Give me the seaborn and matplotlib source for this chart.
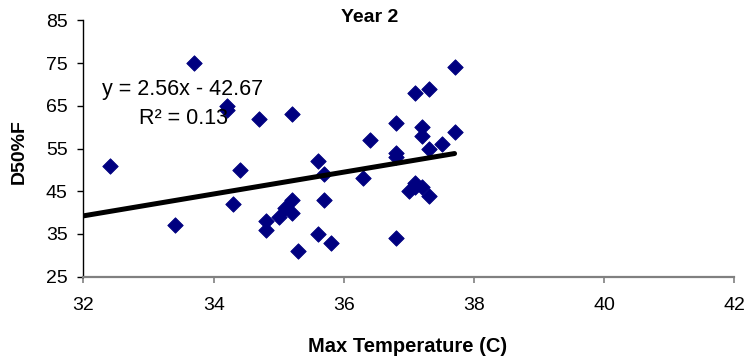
import matplotlib
matplotlib.use("Agg")
import matplotlib.pyplot as plt
import seaborn as sns
import pandas as pd

# Year 2 observations: daily maximum temperature vs D50%F
max_temp = [32.4, 33.4, 33.7, 34.2, 34.2, 34.3, 34.4, 34.7, 34.8, 34.8,
            35.0, 35.1, 35.2, 35.2, 35.2, 35.3, 35.6, 35.6, 35.7, 35.7,
            35.8, 36.3, 36.4, 36.8, 36.8, 36.8, 36.8, 37.0, 37.1, 37.1,
            37.2, 37.3, 37.1, 37.3, 37.2, 37.2, 37.3, 37.5, 37.7, 37.7]
d50 = [51, 37, 75, 65, 64, 42, 50, 62, 38, 36,
       39, 41, 43, 40, 63, 31, 52, 35, 49, 43,
       33, 48, 57, 61, 54, 53, 34, 45, 47, 46,
       46, 44, 68, 69, 60, 58, 55, 56, 74, 59]

# Linear trendline as reported on the chart
slope = 2.56
intercept = -42.67
r_squared = 0.13
trend_x = [32.0, 37.7]

x_ticks = [32, 34, 36, 38, 40, 42]
y_ticks = [25, 35, 45, 55, 65, 75, 85]

sns.set_theme(style="white", rc={
    "xtick.bottom": True, "ytick.left": True,
    "xtick.major.size": 4.5, "ytick.major.size": 4.5,
})
plt.rcParams['font.family'] = ['Liberation Sans', 'DejaVu Sans']

df = pd.DataFrame({"temp": max_temp, "d50": d50})
trend = pd.DataFrame({"temp": trend_x,
                      "d50": [slope * x + intercept for x in trend_x]})

fig = plt.figure(figsize=(7.44, 3.6), dpi=100)
ax = fig.add_axes([0.1122, 0.2314, 0.875, 0.7117])

sns.scatterplot(data=df, x="temp", y="d50", marker="D", s=62,
                color="#000080", edgecolor="#000080", linewidth=0.6,
                ax=ax, zorder=3)
sns.lineplot(data=trend, x="temp", y="d50", color="black", linewidth=3.6,
             ax=ax, zorder=4)

ax.set_xlim(32, 42)
ax.set_ylim(25, 85)
ax.set_xticks(x_ticks)
ax.set_yticks(y_ticks)
ax.set_xlabel("")
ax.set_ylabel("")

for side in ("top", "right"):
    ax.spines[side].set_visible(False)
ax.spines["left"].set_color("black")
ax.spines["left"].set_linewidth(1.0)
ax.spines["bottom"].set_color("#808080")
ax.spines["bottom"].set_linewidth(1.6)

ax.tick_params(axis="y", which="major", direction="out", length=4.5, width=1.0,
               color="black", pad=7, labelsize=14, labelcolor="black", left=True)
ax.tick_params(axis="x", which="major", direction="out", length=4.5, width=1.2,
               color="#808080", pad=10, labelsize=14, labelcolor="black", bottom=True)

fig.text(0.497, 1 - 17 / 360, "Year 2", ha="center", va="center",
         fontsize=14, fontweight="bold", color="black")
fig.text(407.5 / 744, 1 - 346 / 360, "Max Temperature (C)", ha="center",
         va="center", fontsize=14.5, fontweight="bold", color="black")
fig.text(19 / 744, 1 - 152 / 360, "D50%F", ha="center", va="center",
         rotation=90, fontsize=14, fontweight="bold", color="black")

fig.text(183 / 744, 1 - 89 / 360, f"y = {slope:.2f}x - {abs(intercept):.2f}",
         ha="center", va="center", fontsize=15.5, color="black", zorder=5)
fig.text(183.5 / 744, 1 - 119 / 360, f"R\u00b2 = {r_squared:.2f}",
         ha="center", va="center", fontsize=15.5, color="black", zorder=5)

fig.savefig("out.png", dpi=100, facecolor="white")
